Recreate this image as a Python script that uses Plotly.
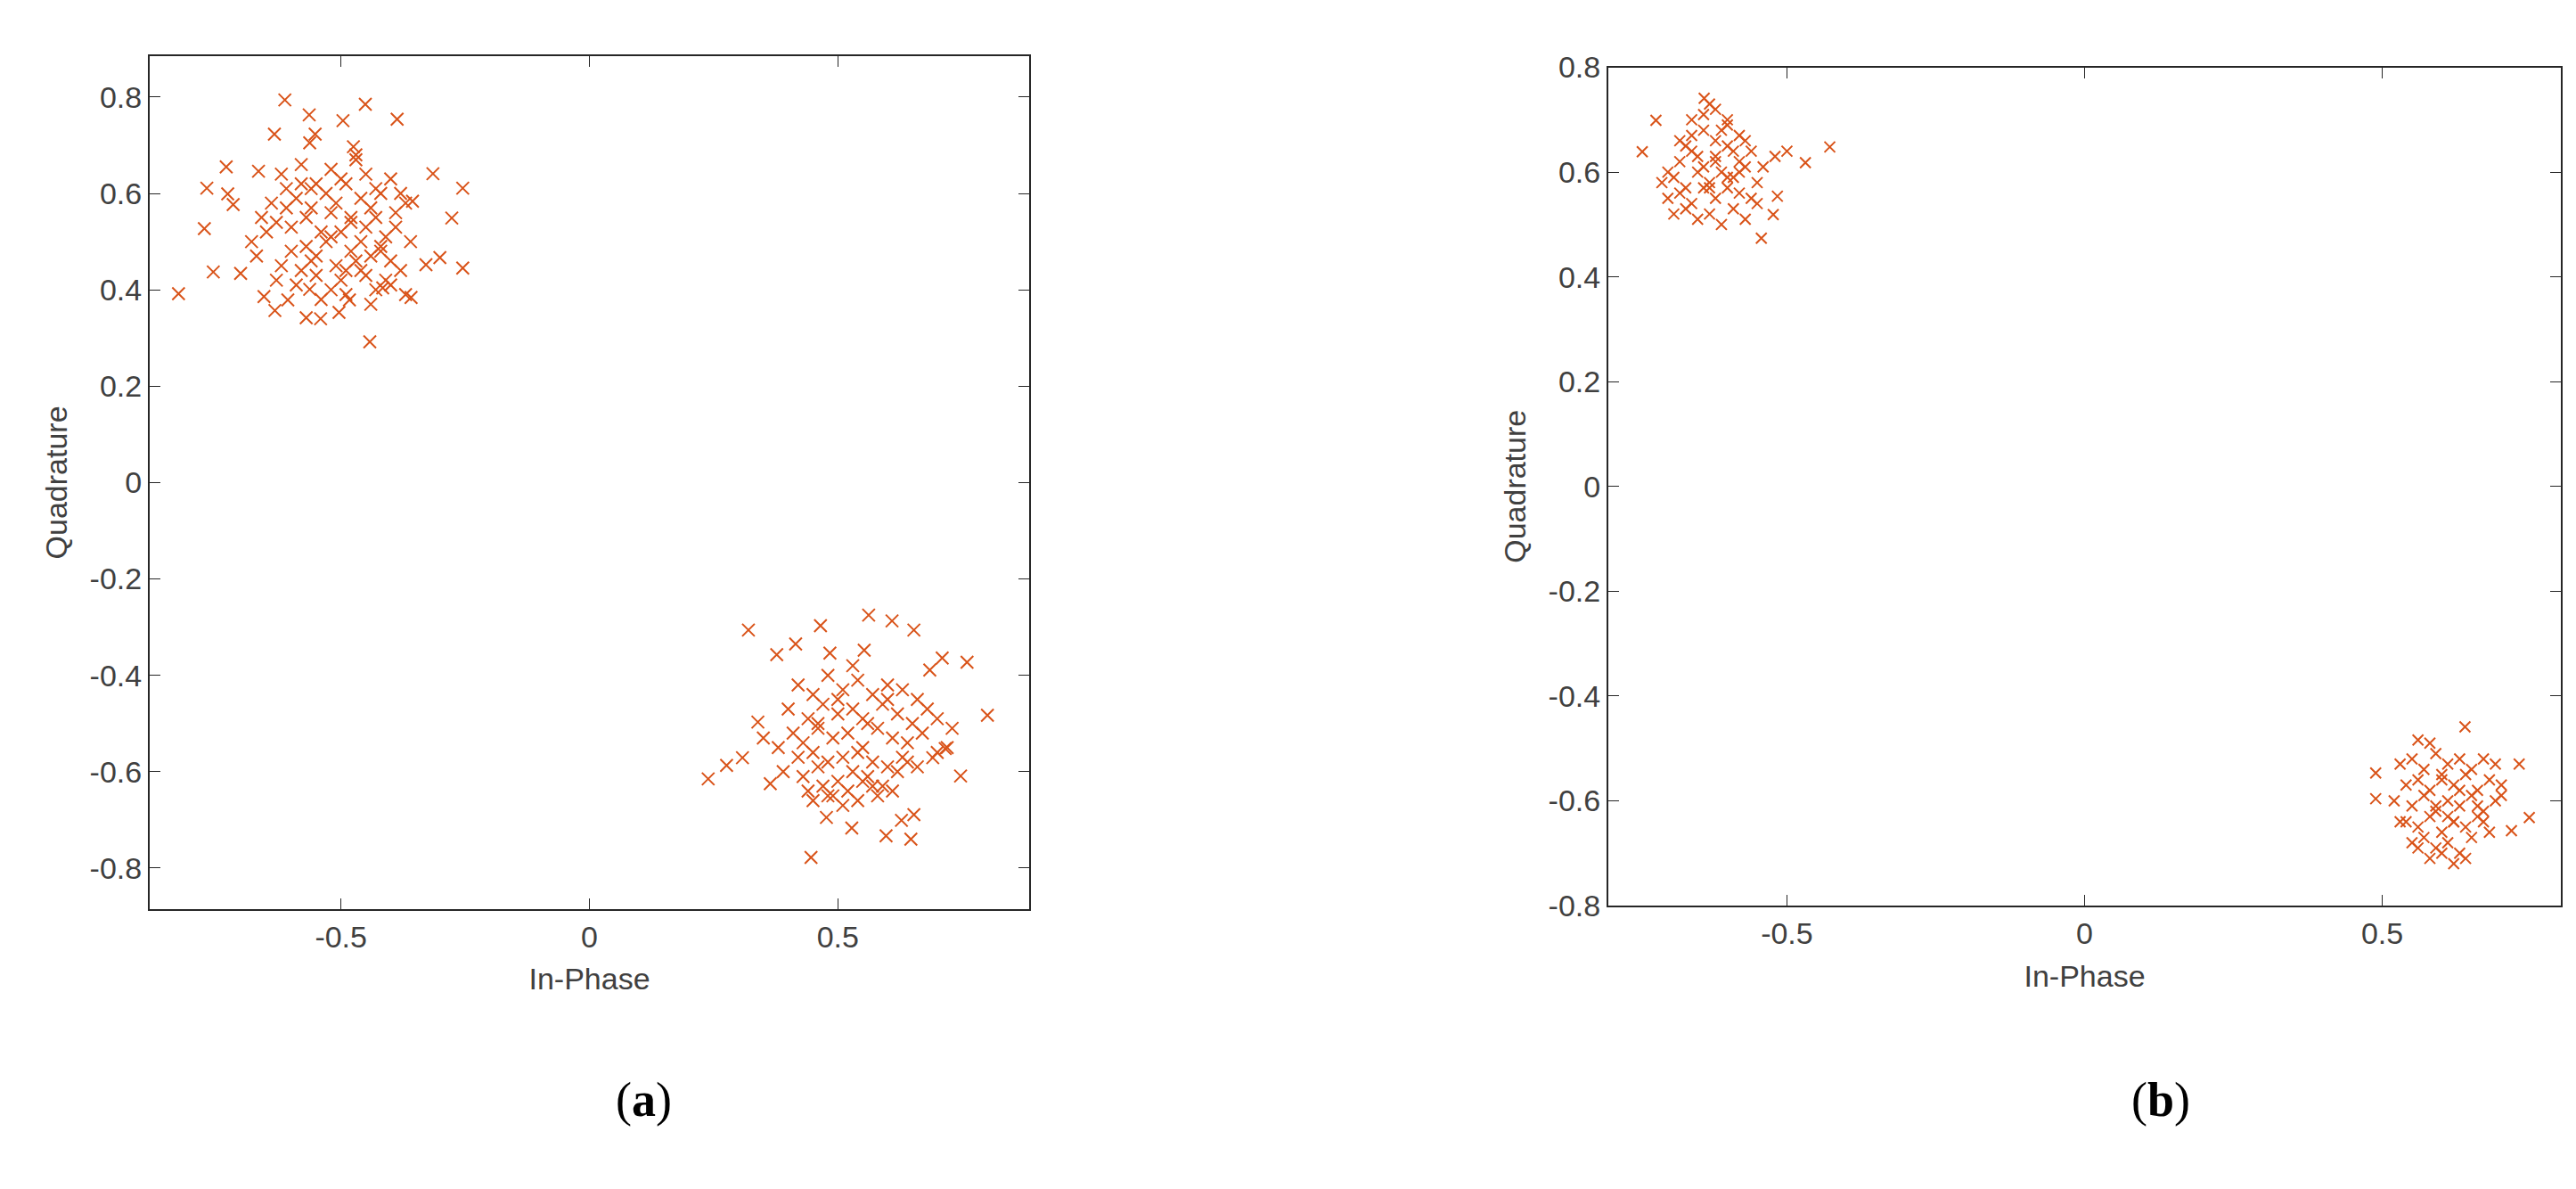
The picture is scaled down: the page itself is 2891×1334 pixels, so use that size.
import plotly.graph_objects as go

# Panel (a) cluster 1 (In-Phase, Quadrature)
a1_i = [-0.613,-0.451,-0.564,-0.496,-0.387,-0.634,-0.552,-0.563,-0.475,-0.731,-0.770,-0.666,-0.315,-0.255,-0.728,-0.717,-0.775,-0.277,-0.356,-0.757,-0.702,-0.827,-0.255,-0.329,-0.301,-0.359,-0.442,-0.655,-0.633,-0.570,-0.541,-0.504,-0.483,-0.563,-0.416,-0.607,
        -0.62,-0.58,-0.55,-0.52,-0.50,-0.47,-0.45,-0.43,-0.40,-0.38,-0.66,-0.64,-0.61,-0.59,-0.56,-0.53,-0.51,-0.49,-0.46,-0.44,-0.42,-0.39,-0.37,-0.68,-0.65,-0.63,-0.60,-0.57,-0.54,-0.52,-0.48,-0.45,-0.43,-0.41,-0.39,-0.36,-0.60,-0.57,-0.55,-0.53,-0.50,-0.48,-0.46,-0.44,-0.42,-0.40,-0.62,-0.58,-0.56,-0.51,-0.49,-0.47,-0.45,-0.41,-0.38,-0.67,-0.63,-0.59,-0.55,-0.52,-0.50,-0.46,-0.43,-0.40,-0.37,-0.54,-0.49,-0.44,-0.58,-0.47,-0.52,-0.61,-0.42,-0.56,-0.48]
a1_q = [0.794,0.785,0.763,0.751,0.754,0.723,0.723,0.705,0.697,0.655,0.611,0.646,0.641,0.611,0.599,0.577,0.527,0.549,0.584,0.437,0.434,0.392,0.445,0.452,0.467,0.384,0.292,0.386,0.357,0.342,0.340,0.353,0.379,0.401,0.404,0.379,
        0.64,0.66,0.62,0.65,0.63,0.67,0.64,0.61,0.63,0.60,0.55,0.58,0.57,0.59,0.61,0.60,0.58,0.62,0.59,0.57,0.60,0.56,0.58,0.50,0.52,0.54,0.53,0.55,0.52,0.56,0.54,0.53,0.55,0.51,0.53,0.50,0.48,0.49,0.47,0.50,0.52,0.48,0.50,0.47,0.49,0.46,0.45,0.44,0.46,0.45,0.44,0.46,0.43,0.42,0.44,0.47,0.42,0.41,0.43,0.40,0.42,0.44,0.40,0.41,0.39,0.38,0.39,0.37,0.62,0.68,0.51,0.61,0.48,0.57,0.55,0.47]

# Panel (a) cluster 2
a2_i = [0.562,0.320,0.465,0.609,0.653,0.415,0.377,0.710,0.760,0.801,0.685,0.239,0.276,0.308,0.339,0.364,0.747,0.477,0.528,0.597,0.647,0.653,0.628,0.446,0.716,0.691,0.553,0.484,
        0.42,0.45,0.48,0.51,0.54,0.57,0.60,0.63,0.66,0.40,0.44,0.47,0.50,0.53,0.56,0.59,0.62,0.65,0.68,0.41,0.43,0.46,0.49,0.52,0.55,0.58,0.61,0.64,0.67,0.38,0.42,0.45,0.48,0.51,0.54,0.57,0.60,0.63,0.70,0.39,0.43,0.46,0.50,0.53,0.56,0.59,0.62,0.66,0.72,0.44,0.47,0.49,0.52,0.55,0.58,0.61,0.45,0.48,0.51,0.54,0.57,0.50,0.53,0.46,0.55,0.60,0.64,0.35,0.70,0.73]
a2_q = [-0.275,-0.306,-0.297,-0.287,-0.306,-0.335,-0.357,-0.364,-0.373,-0.483,-0.389,-0.615,-0.587,-0.571,-0.497,-0.625,-0.609,-0.695,-0.717,-0.733,-0.740,-0.689,-0.701,-0.778,-0.552,-0.571,-0.348,-0.354,
        -0.42,-0.44,-0.40,-0.43,-0.41,-0.44,-0.42,-0.43,-0.45,-0.47,-0.49,-0.46,-0.48,-0.47,-0.50,-0.46,-0.48,-0.50,-0.47,-0.52,-0.54,-0.51,-0.53,-0.52,-0.55,-0.51,-0.53,-0.54,-0.52,-0.55,-0.57,-0.56,-0.58,-0.57,-0.56,-0.58,-0.59,-0.57,-0.56,-0.60,-0.61,-0.59,-0.62,-0.60,-0.61,-0.63,-0.60,-0.59,-0.55,-0.64,-0.63,-0.65,-0.64,-0.62,-0.65,-0.64,-0.66,-0.65,-0.67,-0.66,-0.63,-0.45,-0.38,-0.50,-0.49,-0.45,-0.58,-0.53,-0.49,-0.51]

# Panel (b) cluster 1
b1_i = [-0.743,-0.720,-0.428,-0.469,-0.543,-0.523,-0.516,-0.639,
        -0.70,-0.68,-0.66,-0.64,-0.62,-0.60,-0.58,-0.56,-0.54,-0.71,-0.69,-0.67,-0.65,-0.63,-0.61,-0.59,-0.57,-0.55,-0.70,-0.68,-0.66,-0.64,-0.62,-0.60,-0.58,-0.56,-0.69,-0.67,-0.65,-0.63,-0.61,-0.59,-0.57,-0.55,-0.68,-0.66,-0.64,-0.62,-0.60,-0.58,-0.66,-0.64,-0.62,-0.60,-0.63,-0.61,-0.65,-0.59,-0.62,-0.57,-0.67,-0.60,-0.50,-0.52,-0.63,-0.58]
b1_q = [0.639,0.699,0.648,0.618,0.474,0.519,0.554,0.741,
        0.60,0.62,0.64,0.61,0.63,0.65,0.62,0.64,0.61,0.58,0.59,0.57,0.60,0.58,0.60,0.59,0.61,0.58,0.55,0.56,0.54,0.57,0.55,0.57,0.56,0.55,0.52,0.53,0.51,0.52,0.50,0.53,0.51,0.54,0.66,0.67,0.68,0.66,0.69,0.67,0.70,0.71,0.72,0.70,0.73,0.68,0.63,0.64,0.62,0.66,0.65,0.59,0.64,0.63,0.57,0.60]

# Panel (b) cluster 2
b2_i = [0.639,0.730,0.747,0.717,0.489,0.489,0.560,
        0.53,0.55,0.57,0.59,0.61,0.63,0.65,0.67,0.69,0.54,0.56,0.58,0.60,0.62,0.64,0.66,0.68,0.70,0.52,0.55,0.57,0.59,0.61,0.63,0.65,0.67,0.69,0.54,0.56,0.58,0.60,0.62,0.64,0.66,0.68,0.55,0.57,0.59,0.61,0.63,0.65,0.58,0.60,0.62,0.64,0.56,0.59,0.61,0.63,0.66,0.60,0.62,0.67,0.70,0.53,0.58]
b2_q = [-0.459,-0.530,-0.632,-0.657,-0.547,-0.596,-0.484,
        -0.53,-0.52,-0.54,-0.51,-0.53,-0.52,-0.54,-0.52,-0.53,-0.57,-0.56,-0.58,-0.56,-0.57,-0.55,-0.58,-0.56,-0.57,-0.60,-0.61,-0.59,-0.62,-0.60,-0.61,-0.59,-0.62,-0.60,-0.64,-0.65,-0.63,-0.66,-0.64,-0.65,-0.63,-0.66,-0.68,-0.67,-0.69,-0.68,-0.70,-0.67,-0.71,-0.70,-0.72,-0.71,-0.69,-0.61,-0.63,-0.58,-0.61,-0.55,-0.64,-0.64,-0.59,-0.64,-0.49]

color = "#D95319"
fig = go.Figure()
def add(x, y, xa, ya, size):
    fig.add_trace(go.Scatter(x=x, y=y, mode="markers", xaxis=xa, yaxis=ya, showlegend=False,
                             marker=dict(symbol="x-thin-open", size=size, color=color,
                                         line=dict(color=color, width=2))))
add(a1_i, a1_q, "x", "y", 14)
add(a2_i, a2_q, "x", "y", 14)
add(b1_i, b1_q, "x2", "y2", 12)
add(b2_i, b2_q, "x2", "y2", 12)

W, H = 2891, 1334
tf = dict(family="Liberation Sans, Arial", size=34, color="#404040")
axcommon = dict(showgrid=False, zeroline=False, showline=True, mirror="ticks", linecolor="#262626",
                linewidth=2, ticks="inside", ticklen=12, tickcolor="#262626", tickfont=tf)
yt = [-0.8,-0.6,-0.4,-0.2,0,0.2,0.4,0.6,0.8]
ytt = ["-0.8","-0.6","-0.4","-0.2","0","0.2","0.4","0.6","0.8"]
fig.update_layout(
    width=W, height=H, paper_bgcolor="white", plot_bgcolor="white",
    margin=dict(l=0, r=0, t=0, b=0),
    xaxis=dict(domain=[160/W, 1147/W], range=[-0.885, 0.885], tickvals=[-0.5, 0, 0.5], ticktext=["-0.5","0","0.5"],
               title=dict(text="In-Phase", font=tf, standoff=18), anchor="y", **axcommon),
    yaxis=dict(domain=[1-1022/H, 1-37/H], range=[-0.885, 0.885], tickvals=yt, ticktext=ytt,
               title=dict(text="Quadrature", font=tf, standoff=15), anchor="x", **axcommon),
    xaxis2=dict(domain=[1797/W, 2866/W], range=[-0.80, 0.80], tickvals=[-0.5, 0, 0.5], ticktext=["-0.5","0","0.5"],
                title=dict(text="In-Phase", font=tf, standoff=18), anchor="y2", **axcommon),
    yaxis2=dict(domain=[1-1018/H, 1-50/H], range=[-0.80, 0.80], tickvals=yt, ticktext=ytt,
                title=dict(text="Quadrature", font=tf, standoff=15), anchor="x2", **axcommon),
)
lf = dict(family="Liberation Serif, Times New Roman", size=54, color="black")
fig.add_annotation(text="(<b>a</b>)", x=681/W, y=1-1275/H, xref="paper", yref="paper", showarrow=False, font=lf)
fig.add_annotation(text="(<b>b</b>)", x=2452/W, y=1-1275/H, xref="paper", yref="paper", showarrow=False, font=lf)
fig.write_html("out.html")
